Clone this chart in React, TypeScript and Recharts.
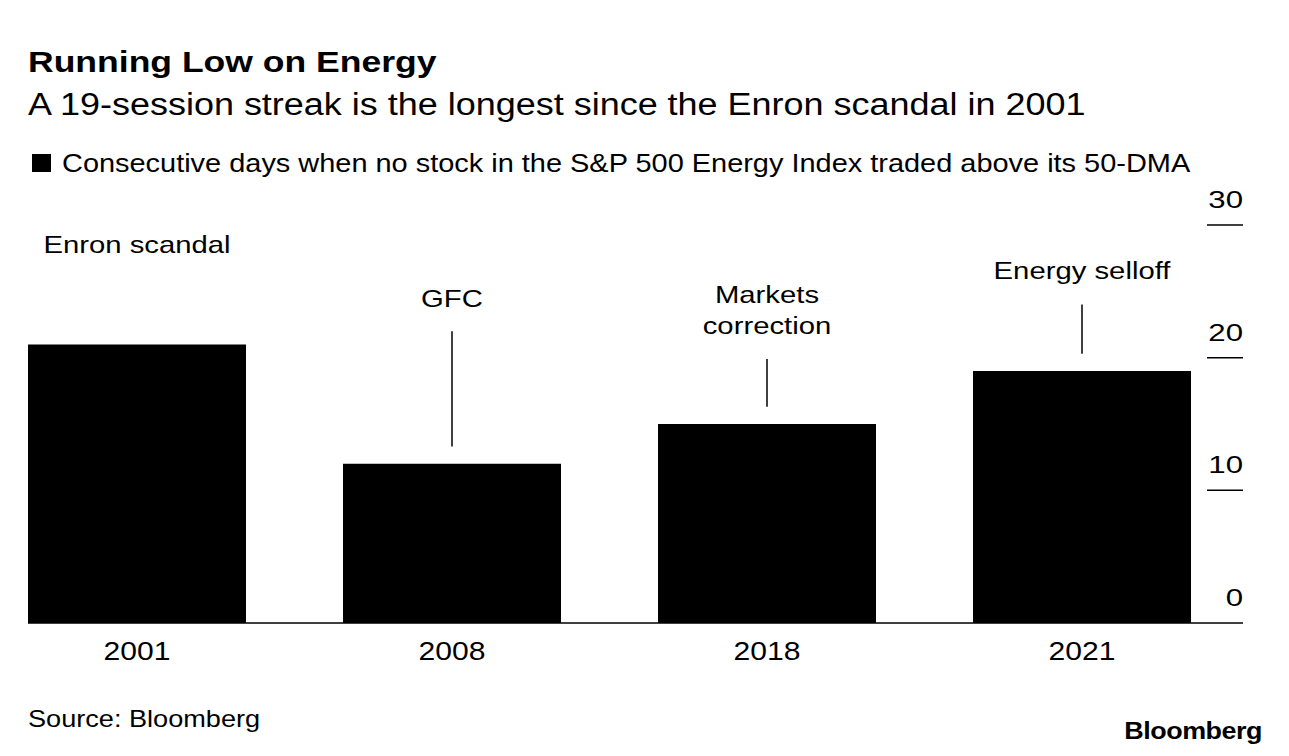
import React from 'react';
import { BarChart, Bar, XAxis, YAxis, ReferenceLine, ReferenceDot } from 'recharts';

const years = ['2001', '2008', '2018', '2021'];
const streakDays = [21, 12, 15, 19];
const eventNames = [['Enron scandal'], ['GFC'], ['Markets', 'correction'], ['Energy selloff']];
// baseline of the last text line of each note, in chart units
const noteBaselines = [27.9, 23.8, 21.8, 25.9];
const stemTops = [null, 22.0, 19.9, 24.0];
const stemBottoms = [null, 13.3, 16.3, 20.3];
const yTicks = [0, 10, 20, 30];

const data = years.map((year, i) => ({ year, days: streakDays[i] }));

const FONT = '"Liberation Sans", Arial, sans-serif';

const Stretch = ({ sx, origin = 'left top', style, children }: any) => (
  <div
    style={{
      position: 'absolute',
      whiteSpace: 'nowrap',
      lineHeight: 1,
      transform: `scaleX(${sx})`,
      transformOrigin: origin,
      ...style,
    }}
  >
    {children}
  </div>
);

const YearTick = ({ x, y, payload }: any) => (
  <text
    transform={`translate(${x} ${y}) scale(1.18 1)`}
    dy="0.72em"
    textAnchor="middle"
    fontSize={25.5}
    fontFamily={FONT}
    fill="#000"
  >
    {payload.value}
  </text>
);

const ValueTick = ({ x, y, payload }: any) => (
  <g>
    {payload.value !== 0 && (
      <line x1={x - 36} x2={x} y1={y} y2={y} stroke="#000" strokeWidth={1.5} />
    )}
    <text
      transform={`translate(${x} ${y - 17}) scale(1.3 1)`}
      textAnchor="end"
      fontSize={24}
      fontFamily={FONT}
      fill="#000"
    >
      {payload.value}
    </text>
  </g>
);

const EventLabel = ({ viewBox, lines }: any) => {
  const cx = viewBox.x + viewBox.width / 2;
  const cy = viewBox.y + viewBox.height / 2;
  return (
    <text
      transform={`translate(${cx} ${cy}) scale(1.22 1)`}
      textAnchor="middle"
      fontSize={24}
      fontFamily={FONT}
      fill="#000"
    >
      {lines.map((l: string, i: number) => (
        <tspan key={i} x={0} y={(i - (lines.length - 1)) * 31}>
          {l}
        </tspan>
      ))}
    </text>
  );
};

export default function App() {
  return (
    <div
      style={{
        position: 'absolute',
        left: 0,
        top: 0,
        width: 1289,
        height: 756,
        background: '#fff',
        fontFamily: FONT,
        color: '#000',
        overflow: 'hidden',
      }}
    >
      <Stretch sx={1.225} style={{ left: 28, top: 47.5, fontSize: 29, fontWeight: 700 }}>
        Running Low on Energy
      </Stretch>
      <Stretch sx={1.16} style={{ left: 28, top: 89, fontSize: 31 }}>
        A 19-session streak is the longest since the Enron scandal in 2001
      </Stretch>
      <div style={{ position: 'absolute', left: 32, top: 153.5, width: 18.5, height: 18.5, background: '#000' }} />
      <Stretch sx={1.157} style={{ left: 62, top: 151, fontSize: 25 }}>
        Consecutive days when no stock in the S&amp;P 500 Energy Index traded above its 50-DMA
      </Stretch>

      <div style={{ position: 'absolute', left: 0, top: 180 }}>
        <BarChart
          width={1289}
          height={500}
          data={data}
          margin={{ top: 45, right: 0, bottom: 0, left: 28 }}
          barCategoryGap={48.5}
        >
          <XAxis
            dataKey="year"
            height={57}
            interval={0}
            padding={{ left: -48.5, right: 3.5 }}
            axisLine={{ stroke: '#000', strokeWidth: 1.5 }}
            tickLine={false}
            tickSize={0}
            tickMargin={19}
            tick={<YearTick />}
          />
          <YAxis
            orientation="right"
            width={46}
            domain={[0, 30]}
            ticks={yTicks}
            interval={0}
            axisLine={false}
            tickLine={false}
            tickSize={0}
            tickMargin={0}
            tick={<ValueTick />}
          />
          <Bar dataKey="days" fill="#000" isAnimationActive={false} />
          {years.map((year, i) =>
            stemTops[i] == null ? null : (
              <ReferenceLine
                key={`stem-${year}`}
                segment={[
                  { x: year, y: stemBottoms[i] as number },
                  { x: year, y: stemTops[i] as number },
                ]}
                stroke="#000"
                strokeWidth={1.5}
              />
            )
          )}
          {years.map((year, i) => (
            <ReferenceDot
              key={`note-${year}`}
              x={year}
              y={noteBaselines[i]}
              r={0}
              fill="none"
              stroke="none"
              label={<EventLabel lines={eventNames[i]} />}
            />
          ))}
        </BarChart>
      </div>

      <Stretch sx={1.13} style={{ left: 28, top: 706.5, fontSize: 24 }}>
        Source: Bloomberg
      </Stretch>
      <Stretch
        sx={1.12}
        origin="right top"
        style={{ right: 27, top: 719, fontSize: 24, fontWeight: 700, letterSpacing: -0.4 }}
      >
        Bloomberg
      </Stretch>
    </div>
  );
}
